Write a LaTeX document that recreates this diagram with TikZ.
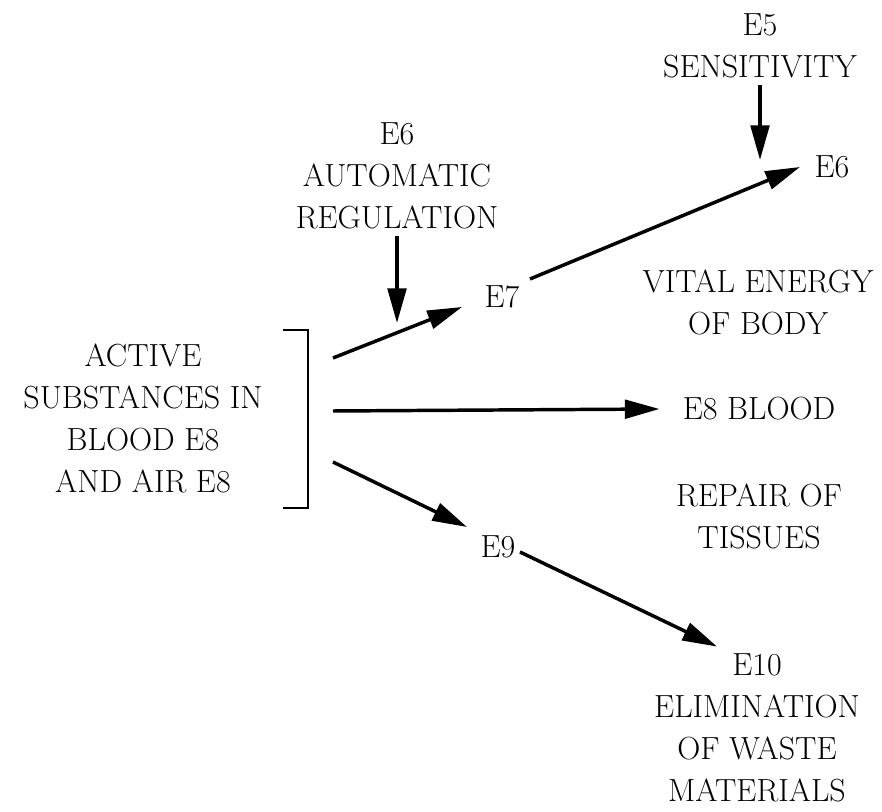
\documentclass[tikz,border=0pt]{standalone}
\usetikzlibrary{arrows.meta}
\begin{document}
\begin{tikzpicture}[x=0.75pt,y=-0.75pt]
\tikzstyle{every node}+=[inner sep=0pt, align=center, font=\rmfamily\fontsize{24}{31.5}\selectfont]
\tikzstyle{arr}=[black, line width=2.6pt, -{Triangle[length=26pt,width=14pt]}]
\tikzstyle{bar}=[black, line width=1.8pt]
\useasboundingbox (0,0) rectangle (882,812);
\node (sens) at (760,46) {E5\\SENSITIVITY};
\node (top) at (832,167) {E6};
\node (auto) at (397,176) {E6\\AUTOMATIC\\REGULATION};
\node (e7) at (502,297) {E7};
\node (active) at (143,418) {ACTIVE\\SUBSTANCES IN\\BLOOD E8\\AND AIR E8};
\node (vital) at (758,302) {VITAL ENERGY\\OF BODY};
\node (blood) at (759,409) {E8 BLOOD};
\node (repair) at (759,516) {REPAIR OF\\TISSUES};
\node (e9) at (498,547) {E9};
\node (waste) at (757,728) {E10\\ELIMINATION\\OF WASTE\\MATERIALS};
\coordinate (bt) at (308,330);
\coordinate (bb) at (308,508);
\coordinate (o1) at (333,358);
\coordinate (o2) at (333,411);
\coordinate (o3) at (333,462);
\coordinate (reg) at (397,323);
\coordinate (sen) at (760,160);
\draw [bar] ([shift={(-25,0)}]bt) -- (bt) -- (bb) -- ([shift={(-25,0)}]bb);
\draw [arr] (o1) -- ([shift={(-40,10)}]e7.center);
\draw [arr] (o2) -- ([shift={(-23,0)}]blood.west);
\draw [arr] (o3) -- ([shift={(-31,-20)}]e9.center);
\draw [arr] ([shift={(0,7)}]auto.south) -- (reg);
\draw [arr] ([shift={(0,7)}]sens.south) -- (sen);
\draw [arr] ([shift={(28,-18)}]e7.center) -- ([shift={(-32,0)}]top.center);
\draw [arr] ([shift={(22,5)}]e9.center) -- ([shift={(-40,-7)}]waste.north);
\end{tikzpicture}
\end{document}
